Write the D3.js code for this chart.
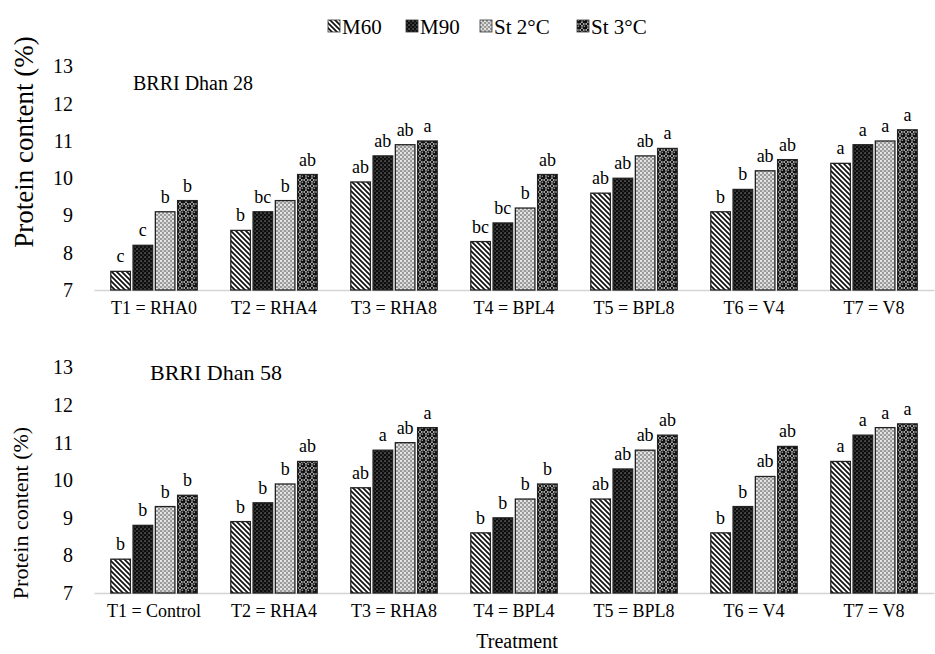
<!DOCTYPE html>
<html><head><meta charset="utf-8">
<script src="https://cdn.jsdelivr.net/npm/d3@7"></script>
<style>
body{margin:0;background:#fff}
</style>
</head><body><svg id="c" width="935" height="654"></svg>
<script>
const series = ["M60", "M90", "St 2°C", "St 3°C"];
const categories28 = ["T1 = RHA0", "T2 = RHA4", "T3 = RHA8", "T4 = BPL4", "T5 = BPL8", "T6 = V4", "T7 = V8"];
const categories58 = ["T1 = Control", "T2 = RHA4", "T3 = RHA8", "T4 = BPL4", "T5 = BPL8", "T6 = V4", "T7 = V8"];
const yTicks = [7, 8, 9, 10, 11, 12, 13];

const dhan28_M60 = [7.5, 8.6, 9.9, 8.3, 9.6, 9.1, 10.4];
const dhan28_M90 = [8.2, 9.1, 10.6, 8.8, 10.0, 9.7, 10.9];
const dhan28_St2 = [9.1, 9.4, 10.9, 9.2, 10.6, 10.2, 11.0];
const dhan28_St3 = [9.4, 10.1, 11.0, 10.1, 10.8, 10.5, 11.3];
const dhan28_M60_sig = ["c", "b", "ab", "bc", "ab", "b", "a"];
const dhan28_M90_sig = ["c", "bc", "ab", "bc", "ab", "b", "a"];
const dhan28_St2_sig = ["b", "b", "ab", "b", "ab", "ab", "a"];
const dhan28_St3_sig = ["b", "ab", "a", "ab", "a", "ab", "a"];

const dhan58_M60 = [7.9, 8.9, 9.8, 8.6, 9.5, 8.6, 10.5];
const dhan58_M90 = [8.8, 9.4, 10.8, 9.0, 10.3, 9.3, 11.2];
const dhan58_St2 = [9.3, 9.9, 11.0, 9.5, 10.8, 10.1, 11.4];
const dhan58_St3 = [9.6, 10.5, 11.4, 9.9, 11.2, 10.9, 11.5];
const dhan58_M60_sig = ["b", "b", "ab", "b", "ab", "b", "a"];
const dhan58_M90_sig = ["b", "b", "a", "b", "ab", "b", "a"];
const dhan58_St2_sig = ["b", "b", "ab", "b", "ab", "ab", "a"];
const dhan58_St3_sig = ["b", "ab", "a", "b", "ab", "ab", "a"];

const FONT = '"Liberation Serif", "Times New Roman", serif';
const svg = d3.select("#c");
const defs = svg.append("defs");
const patIds = ["pM60", "pM90", "pSt2", "pSt3"];

// M60: diagonal stripes
let p = defs.append("pattern").attr("id", "pM60").attr("patternUnits", "userSpaceOnUse").attr("width", 5).attr("height", 5);
p.append("rect").attr("width", 5).attr("height", 5).attr("fill", "#fff");
p.append("path").attr("d", "M-1,-1L6,6M-1,4L1,6M4,-1L6,1").attr("stroke", "#111").attr("stroke-width", 1.7);
// M90: dark with white specks
p = defs.append("pattern").attr("id", "pM90").attr("patternUnits", "userSpaceOnUse").attr("width", 4).attr("height", 4);
p.append("rect").attr("width", 4).attr("height", 4).attr("fill", "#0d0d0d");
p.append("rect").attr("x", 0.5).attr("y", 0.5).attr("width", 1.1).attr("height", 1.1).attr("fill", "#bbb");
p.append("rect").attr("x", 2.5).attr("y", 2.5).attr("width", 1.1).attr("height", 1.1).attr("fill", "#777");
// St2: gray checker
p = defs.append("pattern").attr("id", "pSt2").attr("patternUnits", "userSpaceOnUse").attr("width", 4).attr("height", 4);
p.append("rect").attr("width", 4).attr("height", 4).attr("fill", "#9a9a9a");
p.append("rect").attr("x", 0).attr("y", 0).attr("width", 2).attr("height", 2).attr("fill", "#e6e6e6");
p.append("rect").attr("x", 2).attr("y", 2).attr("width", 2).attr("height", 2).attr("fill", "#d0d0d0");
// St3: black balls on white
p = defs.append("pattern").attr("id", "pSt3").attr("patternUnits", "userSpaceOnUse").attr("width", 6).attr("height", 6);
p.append("rect").attr("width", 6).attr("height", 6).attr("fill", "#f4f4f4");
p.append("circle").attr("cx", 3).attr("cy", 3).attr("r", 2.7).attr("fill", "#111");
p.append("circle").attr("cx", 0).attr("cy", 0).attr("r", 1.2).attr("fill", "#111");
p.append("circle").attr("cx", 6).attr("cy", 0).attr("r", 1.2).attr("fill", "#111");
p.append("circle").attr("cx", 0).attr("cy", 6).attr("r", 1.2).attr("fill", "#111");
p.append("circle").attr("cx", 6).attr("cy", 6).attr("r", 1.2).attr("fill", "#111");
p.append("circle").attr("cx", 2.3).attr("cy", 2.3).attr("r", 0.8).attr("fill", "#aaa");

// Legend
const legendX = [328, 406, 480, 577];
const lg = svg.append("g");
series.forEach((s, i) => {
  lg.append("rect").attr("x", legendX[i]).attr("y", 20).attr("width", 12).attr("height", 12)
    .attr("fill", `url(#${patIds[i]})`).attr("stroke", "#333").attr("stroke-width", 0.8);
  lg.append("text").attr("x", legendX[i] + 14).attr("y", 34).attr("font-size", 21)
    .style("font-family", FONT).attr("fill", "#000").text(s);
});

function panel(opts) {
  const x = d3.scaleBand().domain(opts.categories).range([94, 934]).paddingInner(0.28).paddingOuter(0.14);
  const xs = d3.scaleBand().domain(series).range([0, x.bandwidth()]).paddingInner(0.12);
  const y = d3.scaleLinear().domain([7, 13]).range(opts.yRange);
  const g = svg.append("g");

  // y tick labels
  const yAxis = d3.axisLeft(y).tickValues(yTicks).tickSize(0).tickPadding(0).tickFormat(d3.format("d"));
  const ya = g.append("g").attr("transform", "translate(73,0)").call(yAxis);
  ya.select(".domain").remove();
  ya.selectAll("text").attr("font-size", opts.tickSize).style("font-family", FONT).attr("fill", "#000");

  // baseline + category labels
  const xAxis = d3.axisBottom(x).tickSize(0).tickPadding(opts.catPad);
  const xa = g.append("g").attr("transform", `translate(0,${y(7)})`).call(xAxis);
  xa.select(".domain").attr("stroke", "#d4d4d4").attr("stroke-width", 1.6);
  xa.selectAll("text").attr("font-size", 18).style("font-family", FONT).attr("fill", "#000");

  opts.values.forEach((vals, si) => {
    g.selectAll(null).data(vals).join("rect")
      .attr("x", (d, i) => x(opts.categories[i]) + xs(series[si]))
      .attr("y", d => y(d))
      .attr("width", xs.bandwidth())
      .attr("height", d => y(7) - y(d))
      .attr("fill", `url(#${patIds[si]})`)
      .attr("stroke", "#222").attr("stroke-width", 1.3);
    g.selectAll(null).data(vals).join("text")
      .attr("x", (d, i) => x(opts.categories[i]) + xs(series[si]) + xs.bandwidth() / 2)
      .attr("y", d => y(d) - 9)
      .attr("text-anchor", "middle").attr("font-size", 18)
      .style("font-family", FONT).attr("fill", "#000")
      .text((d, i) => opts.sig[si][i]);
  });

  g.append("text").attr("x", opts.titleX).attr("y", opts.titleY).attr("font-size", opts.titleSize)
    .style("font-family", FONT).attr("fill", "#000").text(opts.title);
  g.append("text").attr("transform", `translate(${opts.yLabX},${opts.yLabY}) rotate(-90)`)
    .attr("text-anchor", "middle").attr("font-size", opts.yLabSize)
    .style("font-family", FONT).attr("fill", "#000").text("Protein content (%)");
}

panel({
  categories: categories28,
  values: [dhan28_M60, dhan28_M90, dhan28_St2, dhan28_St3],
  sig: [dhan28_M60_sig, dhan28_M90_sig, dhan28_St2_sig, dhan28_St3_sig],
  yRange: [290, 66.5], tickSize: 20, catPad: 11,
  title: "BRRI Dhan 28", titleX: 133, titleY: 90, titleSize: 20,
  yLabX: 33, yLabY: 142, yLabSize: 27
});
panel({
  categories: categories58,
  values: [dhan58_M60, dhan58_M90, dhan58_St2, dhan58_St3],
  sig: [dhan58_M60_sig, dhan58_M90_sig, dhan58_St2_sig, dhan58_St3_sig],
  yRange: [593, 367.5], tickSize: 20, catPad: 11,
  title: "BRRI Dhan 58", titleX: 150, titleY: 380, titleSize: 22,
  yLabX: 28, yLabY: 513, yLabSize: 22
});

svg.append("text").attr("x", 517).attr("y", 648).attr("text-anchor", "middle").attr("font-size", 20)
  .style("font-family", FONT).attr("fill", "#000").text("Treatment");
</script>
</body></html>
